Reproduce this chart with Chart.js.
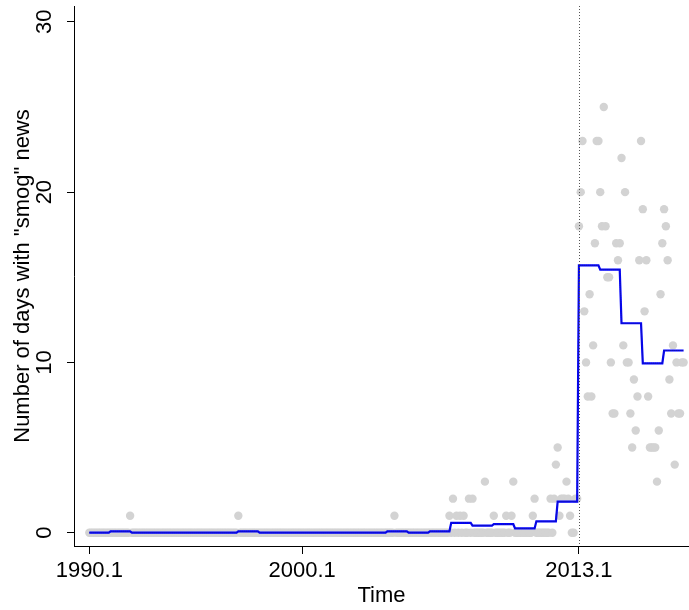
<!DOCTYPE html>
<html>
<head>
<meta charset="utf-8">
<title>Smog news</title>
<script src="https://cdn.jsdelivr.net/npm/chart.js@4.4.1/dist/chart.umd.min.js"></script>
<style>
  html, body { margin: 0; padding: 0; background: #fff; }
  #wrap { width: 689px; height: 610px; }
</style>
</head>
<body>
<div id="wrap"><canvas id="chart" width="689" height="610"></canvas></div>
<script>
// Monthly counts of days with "smog" news, one row per year (Jan..Dec)
const startYear = 1990;
const smogDays = [
  0,0,0,0,0,0,0,0,0,0,0,0,        // 1990
  0,0,0,0,0,0,0,0,0,0,0,1,        // 1991
  0,0,0,0,0,0,0,0,0,0,0,0,        // 1992
  0,0,0,0,0,0,0,0,0,0,0,0,        // 1993
  0,0,0,0,0,0,0,0,0,0,0,0,        // 1994
  0,0,0,0,0,0,0,0,0,0,0,0,        // 1995
  0,0,0,0,0,0,0,0,0,0,0,0,        // 1996
  1,0,0,0,0,0,0,0,0,0,0,0,        // 1997
  0,0,0,0,0,0,0,0,0,0,0,0,        // 1998
  0,0,0,0,0,0,0,0,0,0,0,0,        // 1999
  0,0,0,0,0,0,0,0,0,0,0,0,        // 2000
  0,0,0,0,0,0,0,0,0,0,0,0,        // 2001
  0,0,0,0,0,0,0,0,0,0,0,0,        // 2002
  0,0,0,0,0,0,0,0,0,0,0,0,        // 2003
  0,0,0,0,1,0,0,0,0,0,0,0,        // 2004
  0,0,0,0,0,0,0,0,0,0,0,0,        // 2005
  0,0,0,0,0,0,0,0,0,0,0,1,        // 2006
  0,2,0,1,0,1,0,1,0,0,2,0,        // 2007
  2,0,0,0,0,0,0,3,0,0,0,0,        // 2008
  1,0,0,0,0,0,0,1,0,0,1,3,        // 2009
  0,0,0,0,0,0,0,0,0,0,1,2,        // 2010
  0,0,0,0,0,0,0,0,2,0,2,4,        // 2011
  5,1,2,2,2,3,2,1,0,0,2,2,        // 2012
  18,20,23,13,10,8,14,8,11,17,23,23, // 2013
  20,18,25,18,15,15,10,7,7,17,16,17, // 2014
  22,11,20,10,10,7,5,9,6,8,16,23,    // 2015
  19,13,16,8,5,5,5,5,3,6,14,17,      // 2016
  19,18,16,9,7,11,4,10,7,7,10,10     // 2017
];

// Yearly level of the blue line (1990..2017)
const yearlyMean = [
  0, 0.083, 0, 0, 0, 0, 0, 0.083, 0, 0,
  0, 0, 0, 0, 0.083, 0, 0.083, 0.58, 0.42, 0.5,
  0.25, 0.67, 1.83, 15.7, 15.45, 12.3, 9.95, 10.7
];

const xTickValues = [1990, 2000, 2013];
const xTickLabels = ['1990.1', '2000.1', '2013.1'];
const yTickValues = [0, 10, 20, 30];
const yTickLabels = ['0', '10', '20', '30'];
const refLineYear = 2013;

const FONT = "'Liberation Sans', Arial, Helvetica, sans-serif";
const FONT_SIZE = 22;

// points on the time axis (year + month fraction)
const dotData = smogDays.map((v, i) => ({ x: startYear + i / 12, y: v }));

// each yearly level spans Jan..Dec, then steps to the next January
const meanData = [];
yearlyMean.forEach((v, i) => {
  meanData.push({ x: startYear + i, y: v });
  meanData.push({ x: startYear + i + 11 / 12, y: v });
});

// dotted reference line and rotated y tick labels, R style
const extrasPlugin = {
  id: 'extras',
  afterDatasetsDraw(chart) {
    const ctx = chart.ctx;
    const area = chart.chartArea;
    const x = Math.round(chart.scales.x.getPixelForValue(refLineYear)) + 0.5;
    ctx.save();
    ctx.strokeStyle = '#555';
    ctx.lineWidth = 1;
    ctx.setLineDash([1, 2]);
    ctx.beginPath();
    ctx.moveTo(x, area.top);
    ctx.lineTo(x, area.bottom);
    ctx.stroke();
    ctx.restore();
  },
  afterDraw(chart) {
    const ctx = chart.ctx;
    const yScale = chart.scales.y;
    ctx.save();
    ctx.fillStyle = '#000';
    ctx.font = FONT_SIZE + 'px ' + FONT;
    ctx.textAlign = 'center';
    ctx.textBaseline = 'alphabetic';
    yTickValues.forEach((v, i) => {
      ctx.save();
      ctx.translate(51, yScale.getPixelForValue(v));
      ctx.rotate(-Math.PI / 2);
      ctx.fillText(yTickLabels[i], 0, 0);
      ctx.restore();
    });
    ctx.restore();
  }
};

const chart = new Chart(document.getElementById('chart'), {
  type: 'scatter',
  data: {
    datasets: [
      {
        type: 'line',
        data: meanData,
        borderColor: '#1a1aa0',
        borderWidth: 1,
        borderDash: [1, 1],
        pointRadius: 0,
        fill: false,
        order: 0
      },
      {
        type: 'line',
        data: meanData,
        borderColor: '#0000ff',
        borderWidth: 2.2,
        pointRadius: 0,
        fill: false,
        order: 1
      },
      {
        data: dotData,
        backgroundColor: '#d3d3d3',
        borderWidth: 0,
        pointRadius: 4.2,
        pointHoverRadius: 4.2,
        order: 2
      }
    ]
  },
  options: {
    responsive: false,
    animation: false,
    events: [],
    layout: { autoPadding: false, padding: { top: 6, right: 0, left: 0, bottom: 0 } },
    plugins: {
      legend: { display: false },
      tooltip: { enabled: false }
    },
    scales: {
      x: {
        type: 'linear',
        min: 1989.281,
        max: 2018.17,
        afterBuildTicks: (scale) => {
          scale.ticks = xTickValues.map(v => ({ value: v }));
        },
        afterFit: (scale) => { scale.height = 64; },
        ticks: {
          autoSkip: false,
          maxRotation: 0,
          minRotation: 0,
          padding: 4,
          color: '#000',
          font: { family: FONT, size: FONT_SIZE },
          callback: (value, i) => xTickLabels[i]
        },
        grid: {
          display: true,
          drawOnChartArea: false,
          drawTicks: true,
          tickLength: 8,
          color: '#000',
          lineWidth: 1
        },
        border: { display: true, color: '#000', width: 1 },
        title: {
          display: true,
          text: 'Time',
          color: '#000',
          font: { family: FONT, size: FONT_SIZE },
          padding: { top: 0, bottom: 1 }
        }
      },
      y: {
        type: 'linear',
        min: -0.78,
        max: 30.93,
        afterBuildTicks: (scale) => {
          scale.ticks = yTickValues.map(v => ({ value: v }));
        },
        afterFit: (scale) => { scale.width = 74; },
        ticks: { display: false },
        grid: {
          display: true,
          drawOnChartArea: false,
          drawTicks: true,
          tickLength: 7,
          color: '#000',
          lineWidth: 1
        },
        border: { display: true, color: '#000', width: 1 },
        title: {
          display: true,
          text: 'Number of days with "smog" news',
          color: '#000',
          font: { family: FONT, size: FONT_SIZE },
          padding: { top: 10, bottom: 0 }
        }
      }
    }
  },
  plugins: [extrasPlugin]
});
</script>
</body>
</html>
